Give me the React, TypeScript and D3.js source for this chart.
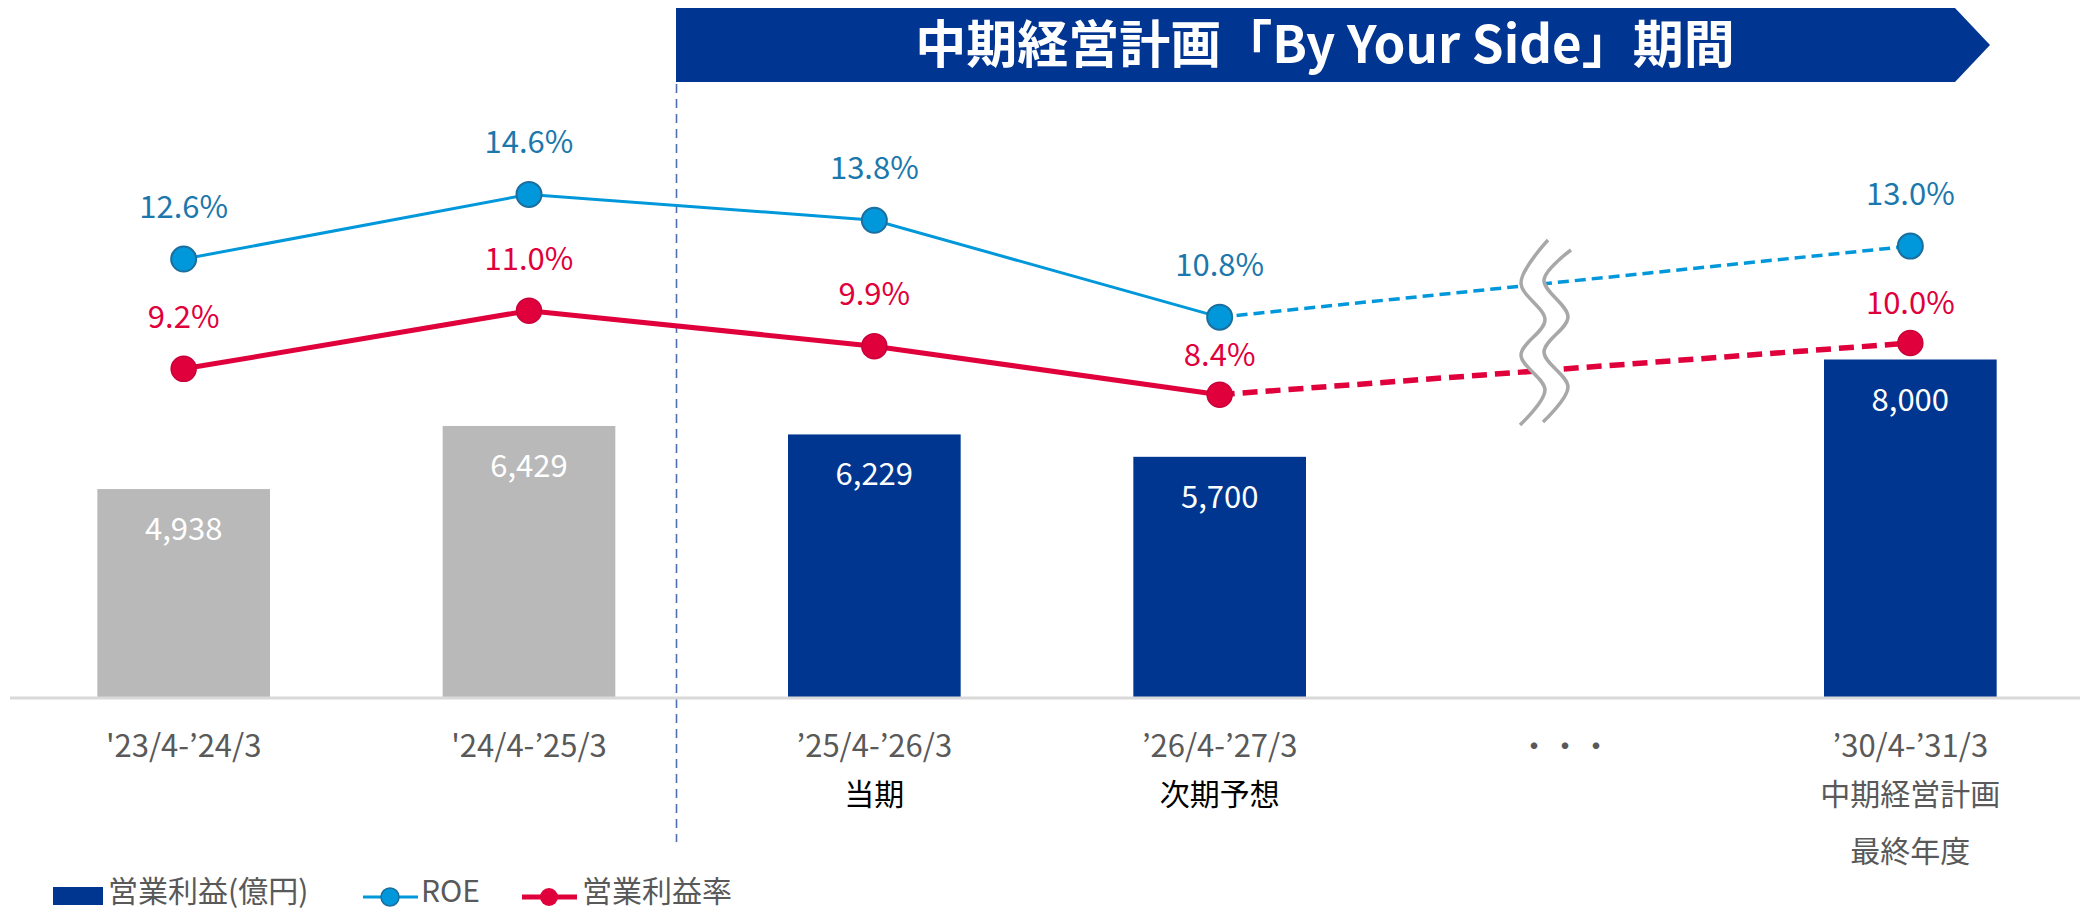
import React from "react"
import * as d3 from "d3"

// chart data
const categories = ["'23/4-’24/3", "'24/4-’25/3", "’25/4-’26/3", "’26/4-’27/3", "gap", "’30/4-’31/3"]
const subLabels = [[], [], ["当期"], ["次期予想"], [], ["中期経営計画", "最終年度"]]
const profit = [4938, 6429, 6229, 5700, null, 8000]
const isActual = [true, true, false, false, false, false]
const roe = [12.6, 14.6, 13.8, 10.8, null, 13.0]
const margin = [9.2, 11.0, 9.9, 8.4, null, 10.0]
const marginLabelGap = [41, 41, 41, 29, 0, 29]

const W = 2080
const H = 910
const baseY = 698
const FONT = "'Noto Sans CJK JP', 'Noto Sans', sans-serif"
const NAVY = "#00368F"
const GRAY = "#B9B9B9"
const BLUE = "#0098DA"
const BLUE_TXT = "#1C78AC"
const RED = "#E0003C"
const TXT = "#595959"

const fmt = d3.format(",")

export default function App() {
  const x = d3.scaleBand<string>().domain(categories).range([11, 2083]).paddingInner(0.5).paddingOuter(0.25)
  const y = d3.scaleLinear().domain([0, 8000]).range([baseY, 359.5])
  const yp = d3.scaleLinear().domain([8, 15]).range([407.6, 181.5])
  const cx = (i: number) => (x(categories[i]) as number) + x.bandwidth() / 2

  const seg = (vals: (number | null)[], idx: number[]) =>
    d3
      .line<number>()
      .x((i) => cx(i))
      .y((i) => yp(vals[i] as number))(idx) || ""

  const solidIdx = [0, 1, 2, 3]
  const dashIdx = [3, 5]

  // break mark (wavy cut)
  const leftPts: [number, number][] = [[1548, 240], [1521, 283], [1545, 320], [1521, 355], [1545, 390], [1520, 425]]
  const rightPts: [number, number][] = leftPts.map(([px, py], i) => [px + 23, i === 0 ? py + 10 : py - 3])
  const wave = d3.line().curve(d3.curveCatmullRom.alpha(0.5))
  const fillPath = (wave(leftPts) || "") + "L" + (wave(rightPts.slice().reverse()) || "").slice(1) + "Z"

  return (
    <svg width={W} height={H} style={{ display: "block", fontFamily: FONT }}>
      <style>{`body{margin:0}`}</style>

      {/* banner */}
      <polygon points="676,8 1955,8 1990,45 1955,82 676,82" fill="#003591" />
      <text x={1325} y={45} dy="0.36em" textAnchor="middle" fill="#fff" fontSize={51} fontWeight={700}>
        中期経営計画「By Your Side」期間
      </text>

      {/* period divider */}
      <line x1={676.5} x2={676.5} y1={84} y2={842} stroke="#4F6FAE" strokeWidth={1.6} strokeDasharray="9 6" />

      {/* bars */}
      {profit.map((v, i) =>
        v == null ? null : (
          <g key={"b" + i}>
            <rect x={x(categories[i])} y={y(v)} width={x.bandwidth()} height={baseY - y(v)} fill={isActual[i] ? GRAY : NAVY} />
            <text x={cx(i)} y={y(v) + 51} textAnchor="middle" fill="#fff" fontSize={31}>
              {fmt(v)}
            </text>
          </g>
        ),
      )}

      {/* axis line */}
      <line x1={10} x2={W} y1={baseY} y2={baseY} stroke="#D9D9D9" strokeWidth={3} />

      {/* lines */}
      <path d={seg(roe, solidIdx)} fill="none" stroke={BLUE} strokeWidth={3} />
      <path d={seg(roe, dashIdx)} fill="none" stroke={BLUE} strokeWidth={3.5} strokeDasharray="11 6" />
      <path d={seg(margin, solidIdx)} fill="none" stroke={RED} strokeWidth={5} />
      <path d={seg(margin, dashIdx)} fill="none" stroke={RED} strokeWidth={5.5} strokeDasharray="15 8" />

      {/* break mark */}
      <path d={fillPath} fill="#fff" />
      <path d={wave(leftPts) || ""} fill="none" stroke="#A8A8A8" strokeWidth={3.5} />
      <path d={wave(rightPts) || ""} fill="none" stroke="#A8A8A8" strokeWidth={3.5} />

      {/* markers + labels */}
      {roe.map((v, i) =>
        v == null ? null : (
          <g key={"r" + i}>
            <circle cx={cx(i)} cy={yp(v)} r={12.5} fill={BLUE} stroke="#1B6E9E" strokeWidth={2} />
            <text x={cx(i)} y={yp(v) - 41} textAnchor="middle" fill={BLUE_TXT} fontSize={31}>
              {v.toFixed(1)}%
            </text>
          </g>
        ),
      )}
      {margin.map((v, i) =>
        v == null ? null : (
          <g key={"m" + i}>
            <circle cx={cx(i)} cy={yp(v)} r={12.5} fill={RED} stroke="#C8003A" strokeWidth={1.5} />
            <text x={cx(i)} y={yp(v) - marginLabelGap[i]} textAnchor="middle" fill={RED} fontSize={31}>
              {v.toFixed(1)}%
            </text>
          </g>
        ),
      )}

      {/* x labels */}
      {categories.map((c, i) => (
        <g key={"x" + i}>
          <text x={cx(i)} y={757} textAnchor="middle" fill={TXT} fontSize={31}>
            {c === "gap" ? "・・・" : c}
          </text>
          {subLabels[i].map((s, j) => (
            <text key={j} x={cx(i)} y={805 + j * 57} textAnchor="middle" fill={i === 5 ? TXT : "#000"} fontSize={30}>
              {s}
            </text>
          ))}
        </g>
      ))}

      {/* legend */}
      <rect x={53} y={887} width={50} height={18} fill={NAVY} />
      <text x={108} y={902} fill={TXT} fontSize={30}>
        営業利益(億円)
      </text>
      <line x1={363} x2={418} y1={897} y2={897} stroke={BLUE} strokeWidth={3} />
      <circle cx={390} cy={897} r={9} fill={BLUE} stroke="#1B6E9E" strokeWidth={1.5} />
      <text x={421} y={902} fill={TXT} fontSize={30}>
        ROE
      </text>
      <line x1={522} x2={577} y1={897} y2={897} stroke={RED} strokeWidth={5} />
      <circle cx={549} cy={897} r={9} fill={RED} />
      <text x={582} y={902} fill={TXT} fontSize={30}>
        営業利益率
      </text>
    </svg>
  )
}
